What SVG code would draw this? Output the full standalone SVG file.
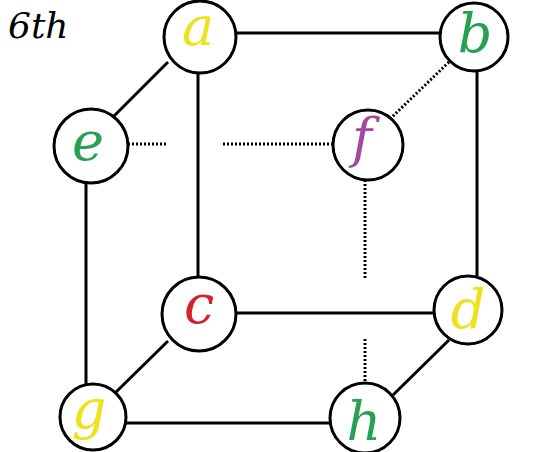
<svg xmlns="http://www.w3.org/2000/svg" width="540" height="452" viewBox="0 0 540 452">
<style>
.n{fill:#fff;stroke:#000;stroke-width:3}
.e{stroke:#000;stroke-width:3;fill:none}
.d{stroke:#000;stroke-width:3;fill:none;stroke-dasharray:2 2}
.l{font-family:'DejaVu Serif',serif;font-style:italic;font-size:54px;text-anchor:middle}
.t{font-family:'DejaVu Serif',serif;font-style:italic;font-size:36px}
</style>
<rect width="540" height="452" fill="#fff"/>
<text class="t" x="8" y="38" fill="#000">6th</text>
<g id="connectors">
<line class="e" x1="236" y1="33" x2="441" y2="33"/>
<line class="e" x1="198" y1="73" x2="198" y2="277"/>
<line class="e" x1="168" y1="62" x2="114" y2="116"/>
<line class="d" x1="124" y1="144" x2="168" y2="144"/>
<line class="d" x1="223" y1="144" x2="333" y2="144"/>
<line class="d" x1="449" y1="62" x2="392" y2="117"/>
<line class="e" x1="477" y1="71" x2="477" y2="276"/>
<line class="d" x1="365" y1="180" x2="365" y2="279"/>
<line class="d" x1="365" y1="339" x2="365" y2="384"/>
<line class="e" x1="86" y1="183" x2="86" y2="385"/>
<line class="e" x1="236" y1="313" x2="434" y2="313"/>
<line class="e" x1="168" y1="341" x2="114" y2="394"/>
<line class="e" x1="125" y1="423" x2="330" y2="423"/>
<line class="e" x1="449" y1="340" x2="393" y2="395"/>
</g>
<g id="a"><circle class="n" cx="200" cy="37" r="36"/><text class="l" x="198" y="45" fill="#ece21e">a</text></g>
<g id="b"><circle class="n" cx="474" cy="37" r="34"/><text class="l" x="475" y="52" fill="#26a152">b</text></g>
<g id="e"><circle class="n" cx="91" cy="146" r="37"/><text class="l" x="88" y="160" fill="#26a152">e</text></g>
<g id="f"><circle class="n" cx="368" cy="145" r="35"/><text class="l" x="362" y="157" fill="#a4479f">f</text></g>
<g id="c"><circle class="n" cx="199" cy="314" r="37"/><text class="l" x="199" y="323" fill="#d2232f">c</text></g>
<g id="d"><circle class="n" cx="468" cy="310" r="34"/><text class="l" x="468" y="328" fill="#ece21e">d</text></g>
<g id="g"><circle class="n" cx="93" cy="417" r="33"/><text class="l" x="89" y="428" fill="#ece21e">g</text></g>
<g id="h"><circle class="n" cx="365" cy="418" r="35"/><text class="l" x="364" y="440" fill="#26a152">h</text></g>
</svg>
